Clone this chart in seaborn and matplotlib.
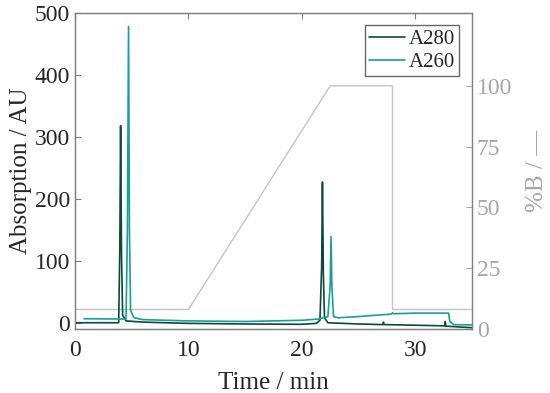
import numpy as np
import pandas as pd
import matplotlib
matplotlib.use("Agg")
import matplotlib.pyplot as plt
import seaborn as sns

# chromatogram traces (time in min, absorption in AU)
t_a280 = [0.0, 3.85, 3.95, 4.02, 4.1, 4.2, 4.5, 6.0, 10.0, 15.0, 20.0, 21.3, 21.6,
          21.75, 21.82, 21.9, 22.0, 22.3, 25.0, 27.15, 27.2, 27.25, 30.0, 32.6,
          32.65, 32.7, 35.0]
a280 = [0.0, 0.0, 120.0, 318.0, 110.0, 12.0, 3.0, 1.0, -1.0, -2.0, -2.5, -1.0, 4.0,
        90.0, 227.0, 80.0, 8.0, 0.0, -2.0, -3.0, 1.0, -3.0, -4.0, -5.0,
        2.0, -5.5, -8.0]

t_a260 = [0.8, 4.5, 4.62, 4.72, 4.8, 4.9, 5.2, 6.0, 10.0, 15.0, 20.0, 21.5, 22.3,
          22.5, 22.58, 22.65, 22.8, 23.2, 25.0, 27.9, 28.0, 28.1, 30.0, 32.95,
          33.05, 33.4, 35.0]
a260 = [6.5, 6.0, 150.0, 478.0, 150.0, 20.0, 8.0, 5.0, 3.0, 2.0, 4.0, 6.0, 10.0,
        60.0, 139.0, 60.0, 10.0, 8.0, 10.0, 14.0, 16.0, 14.5, 15.5, 15.5,
        2.0, -3.0, -3.5]

# solvent gradient (%B)
t_grad = [0.0, 10.0, 22.5, 28.0, 28.0, 35.0]
pct_b = [8.0, 8.0, 100.0, 100.0, 8.0, 8.0]

col_280 = "#0c4740"
col_260 = "#16a096"
col_grad = "#c4c4c4"
col_grey = "#a6a6a6"

sns.set_style("white")
plt.rcParams["font.family"] = ["Liberation Serif", "DejaVu Serif"]
plt.rcParams["font.size"] = 17

df280 = pd.DataFrame({"t": t_a280, "v": a280})
df260 = pd.DataFrame({"t": t_a260, "v": a260})
dfg = pd.DataFrame({"t": t_grad, "b": pct_b})

fig, ax = plt.subplots(figsize=(5.5, 3.93), dpi=100)
fig.subplots_adjust(left=0.1364, right=0.858, top=0.967, bottom=0.163)

ax2 = ax.twinx()
sns.lineplot(data=dfg, x="t", y="b", ax=ax2, color=col_grad, lw=1.0,
             sort=False, estimator=None)
ax2.set_ylim(0, 130)
ax2.set_yticks([0, 25, 50, 75, 100])
ax2.set_ylabel("%B / —", color=col_grey, labelpad=10, fontsize=18)
ax2.tick_params(axis="y", colors=col_grey, direction="in", length=4, labelsize=17)
ax2.set_xlabel("")

ax.set_zorder(ax2.get_zorder() + 1)
ax.patch.set_visible(False)

sns.lineplot(data=df280, x="t", y="v", ax=ax, color=col_280, lw=1.2, label="A280",
             sort=False, estimator=None)
sns.lineplot(data=df260, x="t", y="v", ax=ax, color=col_260, lw=1.2, label="A260",
             sort=False, estimator=None)

ax.set_xlim(0, 35)
ax.set_ylim(-10, 500)
ax.set_xticks([0, 10, 20, 30])
ax.set_yticks([0, 100, 200, 300, 400, 500])
ax.set_xlabel("Time / min", labelpad=8, fontsize=18)
ax.set_ylabel("Absorption / AU", labelpad=2, fontsize=18)
ax.tick_params(axis="both", direction="in", length=4, top=True, labelsize=17,
               color="#808080")
ax.tick_params(axis="x", pad=8)

for name, sp in ax.spines.items():
    sp.set_color("#808080")
    sp.set_linewidth(1.0)
for name, sp in ax2.spines.items():
    sp.set_color("#808080" if name != "right" else "#c8c8c8")

leg = ax.legend(loc="upper right", frameon=True, fancybox=False, fontsize=15,
                handlelength=1.7, handletextpad=0.2, borderpad=0.2,
                labelspacing=0.15, borderaxespad=0.6)
leg.get_frame().set_edgecolor("#404040")
leg.get_frame().set_linewidth(1.0)

fig.savefig("out.png", dpi=100)
